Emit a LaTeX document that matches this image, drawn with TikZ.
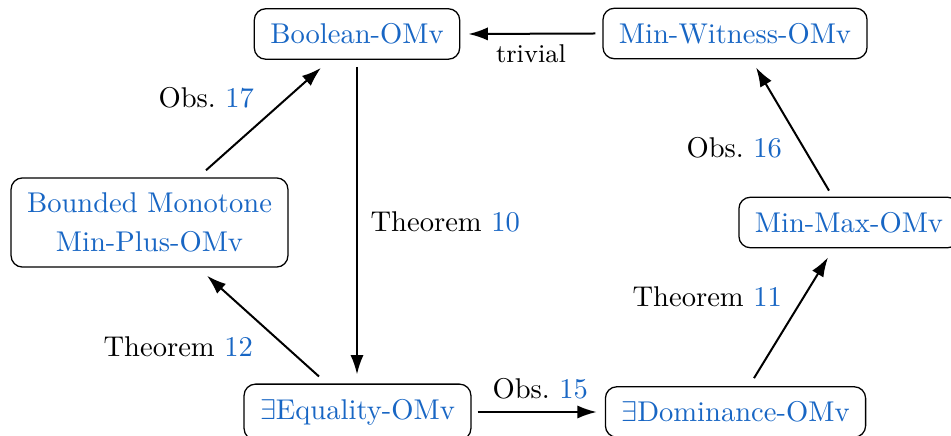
\documentclass[tikz,border=0pt]{standalone}
\usetikzlibrary{arrows.meta,calc}
\definecolor{refblue}{RGB}{24,102,196}
\begin{document}
\begin{tikzpicture}[x=0.35pt,y=-0.35pt,
  prob/.style={draw=black, line width=0.45pt, rounded corners=4pt, inner xsep=5.6pt, inner ysep=5.2pt,
    text=refblue, align=center, font=\fontsize{10pt}{13.65pt}\selectfont},
  lbl/.style={inner sep=0pt, anchor=base west, font=\fontsize{10pt}{12pt}\selectfont},
  red/.style={line width=0.7pt, -{Latex[length=6.8pt,width=4.6pt]}}]
\useasboundingbox (0,0) rectangle (951,436);
\node[prob] (bool) at (357,34) {Boolean-OMv};
\node[prob] (wit) at (735,33.5) {Min-Witness-OMv};
\node[prob] (bnd) at (149.5,222.5) {Bounded Monotone\\Min-Plus-OMv};
\node[prob] (mm) at (849,222.5) {Min-Max-OMv};
\node[prob] (eq) at (357.5,412) {$\exists$Equality-OMv};
\node[prob] (dom) at (735.5,412) {$\exists$Dominance-OMv};

\draw[red] ($(wit.west)+(-7,0)$) -- ($(bool.east)+(8,0)$);
\draw[red] ($(mm.north)+(-20,-6)$) -- ($(wit.south)+(21,8)$);
\draw[red] ($(dom.north)+(18.5,-8)$) -- ($(mm.south)+(-21,9)$);
\draw[red] ($(eq.east)+(6,0)$) -- ($(dom.west)+(-8,0)$);
\draw[red] ($(bool.south)+(0,7)$) -- ($(bool.south |- eq.north)+(0,-9)$);
\draw[red] ($(eq.north)+(-38.5,-7)$) -- ($(bnd.south)+(57.5,8)$);
\draw[red] ($(bnd.north)+(56.5,-7)$) -- ($(bool.south)+(-36,8)$);

\node[inner sep=0pt, anchor=base, font=\small] (ltriv) at (531,63) {trivial};
\node[lbl] (l10) at (370,232) {Theorem \textcolor{refblue}{10}};
\node[lbl] (l12) at (103,357) {Theorem \textcolor{refblue}{12}};
\node[lbl] (l11) at (632,307) {Theorem \textcolor{refblue}{11}};
\node[lbl] (l17) at (158,108) {Obs.\ \textcolor{refblue}{17}};
\node[lbl] (l16) at (686,158) {Obs.\ \textcolor{refblue}{16}};
\node[lbl] (l15) at (492,399) {Obs.\ \textcolor{refblue}{15}};
\end{tikzpicture}
\end{document}
